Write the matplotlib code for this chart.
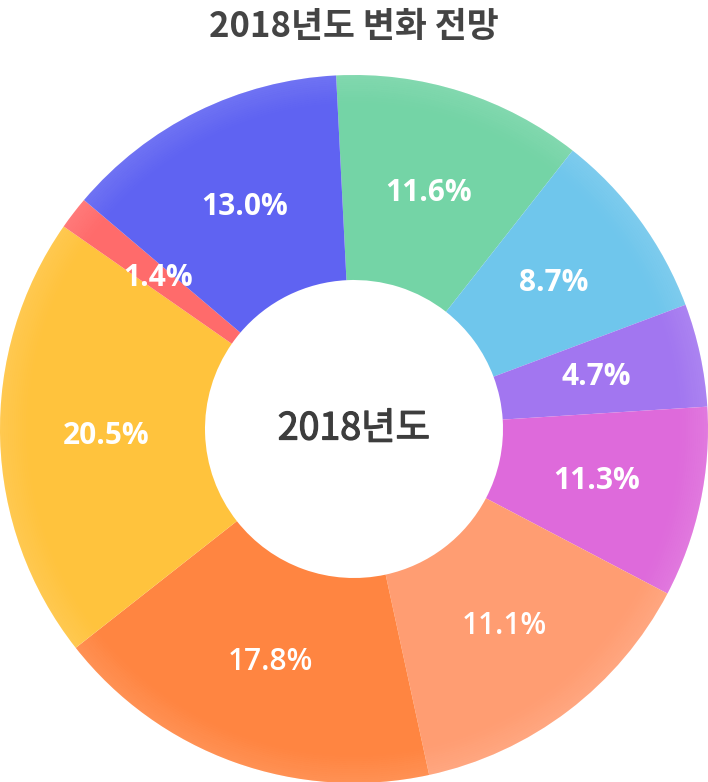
import matplotlib
matplotlib.use("Agg")
import matplotlib.pyplot as plt
from matplotlib.patches import Wedge
import matplotlib.patheffects as pe
import numpy as np

plt.rcParams['font.family'] = ['Noto Sans CJK KR', 'DejaVu Sans']

title = "2018년도 변화 전망"
center_label = "2018년도"
# arc shares as drawn in the picture (clockwise from the top)
values = [11.4, 8.7, 4.7, 8.7, 13.9, 17.8, 20.3, 1.5, 13.0]
# printed labels
labels = ["11.6%", "8.7%", "4.7%", "11.3%", "11.1%", "17.8%", "20.5%", "1.4%", "13.0%"]
colors = ["#74D4A6", "#6FC6EC", "#A276F0", "#DE6ADB", "#FF9D72",
          "#FF8541", "#FFC33D", "#FF6B6B", "#5F63F2"]
weights = ["bold", "bold", "bold", "bold", "semibold", "semibold", "bold", "bold", "bold"]

W, H = 708, 782
fig = plt.figure(figsize=(W / 100, H / 100), dpi=100)
ax = fig.add_axes([0, 0, 1, 1])

R = 354
cx, cy = 354, H - 429
hole = 149
start = 92.9

ax.pie(values, colors=colors, startangle=start, counterclock=False,
       radius=R, center=(cx, cy),
       wedgeprops=dict(width=R - hole, linewidth=0))

# soft lighter rim near outer edge
n = 14
for i in range(n):
    r_out = R - i * 2.0
    ax.add_patch(Wedge((cx, cy), r_out, 0, 360, width=2.0,
                       facecolor="white", alpha=0.1 * (n - i) / n, linewidth=0))

# labels at arc middles
total = sum(values)
cum = 0
for v, lab, wt in zip(values, labels, weights):
    mid = start - 360 * (cum + v / 2) / total
    cum += v
    rr = 0.70 * R
    x = cx + rr * np.cos(np.radians(mid))
    y = cy + rr * np.sin(np.radians(mid))
    ax.text(x, y, lab, ha="center", va="center", color="white",
            fontsize=21.5, fontweight=wt, family=["Open Sans", "DejaVu Sans"])

ax.text(cx, cy, center_label, ha="center", va="center", color="#3d3d3d",
        fontsize=27, fontweight="medium",
        path_effects=[pe.withStroke(linewidth=0.9, foreground="#3d3d3d")])
ax.text(W / 2, H - 26, title, ha="center", va="center", color="#444444",
        fontsize=25, fontweight="bold")

ax.set_xlim(0, W)
ax.set_ylim(0, H)
ax.set_aspect("equal")
ax.axis("off")
fig.savefig("out.png", dpi=100)
